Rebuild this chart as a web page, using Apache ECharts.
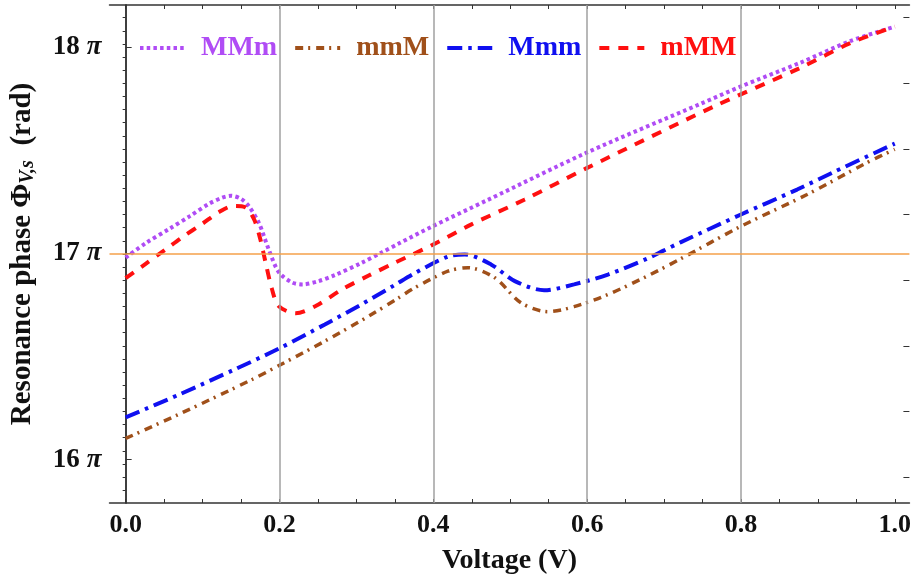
<!DOCTYPE html>
<html>
<head>
<meta charset="utf-8">
<script src="https://cdn.jsdelivr.net/npm/echarts@6/dist/echarts.min.js"></script>
<style>
  html, body { margin: 0; padding: 0; background: #fff; }
  #chart { width: 914px; height: 583px; }
</style>
</head>
<body>
<div id="chart"></div>
<script>
// phase values are in units of pi
const xMMm = [0, 0.026, 0.057, 0.083, 0.108, 0.125, 0.137, 0.15, 0.16, 0.173, 0.186, 0.199, 0.216, 0.23, 0.25, 0.272, 0.307, 0.333, 0.355, 0.398, 0.471, 0.6, 0.747, 0.8, 0.877, 0.942, 1.0];
const yMMm = [16.98, 17.05, 17.12, 17.18, 17.24, 17.27, 17.28, 17.265, 17.23, 17.15, 17.02, 16.91, 16.86, 16.85, 16.865, 16.895, 16.955, 17.005, 17.048, 17.13, 17.26, 17.49, 17.725, 17.81, 17.925, 18.03, 18.1];

const xmmM = [0, 0.069, 0.165, 0.2, 0.259, 0.316, 0.355, 0.376, 0.419, 0.445, 0.48, 0.514, 0.549, 0.583, 0.627, 0.678, 0.722, 0.8, 0.886, 0.963, 1.0];
const ymmM = [16.103, 16.22, 16.39, 16.458, 16.575, 16.696, 16.785, 16.834, 16.914, 16.931, 16.882, 16.761, 16.718, 16.742, 16.801, 16.89, 16.975, 17.132, 17.286, 17.439, 17.505];

const xMmm = [0, 0.069, 0.143, 0.2, 0.259, 0.305, 0.348, 0.376, 0.419, 0.441, 0.475, 0.506, 0.544, 0.583, 0.627, 0.678, 0.7, 0.722, 0.8, 0.873, 0.92, 1.0];
const yMmm = [16.205, 16.315, 16.44, 16.54, 16.656, 16.75, 16.843, 16.905, 16.985, 16.995, 16.947, 16.866, 16.822, 16.85, 16.898, 16.975, 17.015, 17.055, 17.189, 17.31, 17.394, 17.533];

const xmMM = [0, 0.026, 0.052, 0.074, 0.1, 0.121, 0.14, 0.155, 0.167, 0.175, 0.182, 0.19, 0.199, 0.221, 0.247, 0.281, 0.316, 0.35, 0.398, 0.449, 0.519, 0.6, 0.765, 0.877, 0.942, 1.0];
const ymMM = [16.88, 16.95, 17.02, 17.08, 17.145, 17.2, 17.23, 17.225, 17.165, 17.07, 16.955, 16.83, 16.745, 16.71, 16.745, 16.825, 16.893, 16.955, 17.04, 17.14, 17.262, 17.415, 17.713, 17.9, 18.02, 18.1];

const xTicks = [0, 0.05, 0.1, 0.15, 0.2, 0.25, 0.3, 0.35, 0.4, 0.45, 0.5, 0.55, 0.6, 0.65, 0.7, 0.75, 0.8, 0.85, 0.9, 0.95, 1.0];
const xLabels = [0, 0.2, 0.4, 0.6, 0.8, 1.0];
const yLabels = [16, 17, 18];
const xGridLines = [0.2, 0.4, 0.6, 0.8];
const refLine = 17;

const xMin = -0.021, xMax = 1.019;
const yMin = 15.79, yMax = 18.205;

const serif = '"Liberation Serif", "Times New Roman", serif';
const frame = { show: true, lineStyle: { color: '#333', width: 1.5 } };

// right frame ticks are in radians
const radMinor = [];
const radMajor = [];
for (let k = 248; k <= 286; k++) radMinor.push(k / 5);
for (let k = 50; k <= 57; k++) radMajor.push(k);

function pairs(xs, ys) {
  return xs.map((x, i) => [x, ys[i]]);
}

const chart = echarts.init(document.getElementById('chart'));

chart.setOption({
  backgroundColor: '#fff',
  animation: false,
  grid: { left: 107, right: 4, top: 5, bottom: 80 },
  legend: {
    left: 138,
    top: 34,
    padding: 0,
    itemWidth: 45,
    itemHeight: 14,
    itemGap: 16,
    itemStyle: { opacity: 0 },
    lineStyle: { width: 4 },
    textStyle: { fontFamily: serif, fontWeight: 'bold', fontSize: 28, padding: [0, 0, 0, 11] },
    data: [
      { name: 'MMm', textStyle: { color: '#b04cf5' } },
      { name: 'mmM', textStyle: { color: '#a0501a' } },
      { name: 'Mmm', textStyle: { color: '#1010f0' } },
      { name: 'mMM', textStyle: { color: '#ff1010' } },
    ],
  },
  xAxis: [
    {
      type: 'value',
      min: xMin,
      max: xMax,
      position: 'bottom',
      name: 'Voltage (V)',
      nameLocation: 'middle',
      nameGap: 44,
      nameTextStyle: { fontFamily: serif, fontWeight: 'bold', fontSize: 28, color: '#111' },
      axisLine: frame,
      axisTick: { inside: true, length: 4, customValues: xTicks, lineStyle: { color: '#333' } },
      axisLabel: {
        customValues: xLabels,
        margin: 9,
        fontFamily: serif,
        fontWeight: 'bold',
        fontSize: 26,
        color: '#111',
        formatter: (v) => Number(v).toFixed(1),
      },
      splitLine: { show: false },
    },
    {
      type: 'value',
      min: xMin,
      max: xMax,
      position: 'top',
      axisLine: frame,
      axisTick: { inside: true, length: 4, customValues: xTicks, lineStyle: { color: '#333' } },
      axisLabel: { show: false },
      splitLine: { show: false },
    },
  ],
  yAxis: [
    {
      type: 'value',
      min: yMin,
      max: yMax,
      position: 'left',
      name: '{t|Resonance phase Φ}{s|V,s}{t|  (rad)}',
      nameLocation: 'middle',
      nameRotate: 90,
      nameGap: 72,
      nameTextStyle: {
        rich: {
          t: { fontFamily: serif, fontWeight: 'bold', fontSize: 29, color: '#111' },
          s: { fontFamily: serif, fontWeight: 'bold', fontStyle: 'italic', fontSize: 20, color: '#111', padding: [10, 0, 0, 0] },
        },
      },
      axisLine: frame,
      axisTick: { inside: true, length: 6, customValues: yLabels, lineStyle: { color: '#333' } },
      axisLabel: {
        customValues: yLabels,
        margin: 8,
        formatter: (v) => `{n|${v}}{p|π}`,
        rich: {
          n: { fontFamily: serif, fontWeight: 'bold', fontSize: 27, color: '#111', padding: [0, 7, 0, 0] },
          p: { fontFamily: serif, fontWeight: 'bold', fontStyle: 'italic', fontSize: 27, color: '#111' },
        },
      },
      splitLine: { show: false },
    },
    {
      type: 'value',
      min: yMin * Math.PI,
      max: yMax * Math.PI,
      position: 'right',
      axisLine: frame,
      axisTick: { inside: true, length: 3, customValues: radMinor, lineStyle: { color: '#333' } },
      axisLabel: { show: false },
      splitLine: { show: false },
    },
    {
      type: 'value',
      min: yMin * Math.PI,
      max: yMax * Math.PI,
      position: 'right',
      axisLine: { show: false },
      axisTick: { inside: true, length: 6, customValues: radMajor, lineStyle: { color: '#333' } },
      axisLabel: { show: false },
      splitLine: { show: false },
    },
  ],
  series: [
    {
      name: 'guides',
      type: 'line',
      data: [],
      z: 1,
      silent: true,
      markLine: {
        silent: true,
        symbol: 'none',
        label: { show: false },
        data: [
          ...xGridLines.map((x) => ({ xAxis: x, lineStyle: { color: '#a0a0a0', width: 1.5, type: 'solid' } })),
          { yAxis: refLine, lineStyle: { color: '#f5a04a', width: 1.5, type: 'solid' } },
        ],
      },
    },
    {
      name: 'MMm',
      type: 'line',
      data: pairs(xMMm, yMMm),
      smooth: 0.3,
      symbol: 'none',
      z: 3,
      itemStyle: { color: '#b04cf5' },
      lineStyle: { color: '#b04cf5', width: 4, type: [3.5, 3.2], cap: 'butt' },
    },
    {
      name: 'mmM',
      type: 'line',
      data: pairs(xmmM, ymmM),
      smooth: 0.3,
      symbol: 'none',
      z: 3,
      itemStyle: { color: '#a0501a' },
      lineStyle: { color: '#a0501a', width: 3.5, type: [8, 5, 2, 6], cap: 'butt' },
    },
    {
      name: 'Mmm',
      type: 'line',
      data: pairs(xMmm, yMmm),
      smooth: 0.3,
      symbol: 'none',
      z: 3,
      itemStyle: { color: '#1010f0' },
      lineStyle: { color: '#1010f0', width: 4, type: [15, 6, 3.5, 6], cap: 'butt' },
    },
    {
      name: 'mMM',
      type: 'line',
      data: pairs(xmMM, ymMM),
      smooth: 0.3,
      symbol: 'none',
      z: 3,
      itemStyle: { color: '#ff1010' },
      lineStyle: { color: '#ff1010', width: 4, type: [10, 9], cap: 'butt' },
    },
  ],
});
</script>
</body>
</html>
